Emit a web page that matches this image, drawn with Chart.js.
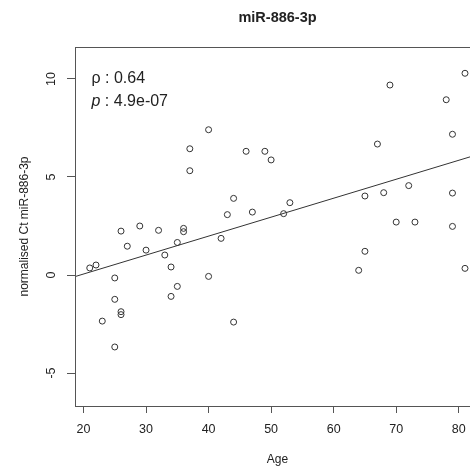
<!DOCTYPE html>
<html><head><meta charset="utf-8">
<script src="https://cdn.jsdelivr.net/npm/chart.js@4"></script>
<style>
html,body{margin:0;padding:0;background:#fff;overflow:hidden;}
#wrap{width:470px;height:472px;overflow:hidden;position:relative;}
canvas{display:block;}
</style></head><body>
<div id="wrap"><canvas id="c" width="500" height="472"></canvas></div>
<script>
const ages = [21,22,23,25,25,25,26,26,26,27,29,30,32,33,34,34,35,35,36,36,37,37,40,40,42,43,44,44,46,47,49,50,52,53,64,65,65,67,68,69,70,72,73,78,79,79,79,81,81];
const ctValues = [0.36,0.51,-2.35,-0.15,-1.24,-3.67,2.24,-1.87,-2.02,1.47,2.5,1.27,2.28,1.02,0.41,-1.09,1.66,-0.58,2.38,2.21,6.44,5.32,7.41,-0.07,1.87,3.08,3.91,-2.40,6.31,3.21,6.31,5.87,3.13,3.69,0.24,4.03,1.21,6.68,4.2,9.69,2.70,4.56,2.70,8.94,7.18,4.18,2.48,10.29,0.34];
const xTicks = [20,30,40,50,60,70,80];
const yTicks = [-5,0,5,10];
const xRange = [18.64, 83.4];
const yRange = [-6.68, 11.63];
const fitX = [18.64, 83.4];
const fitY = [-0.08, 6.18];
const rhoText = '0.64';
const pText = '4.9e-07';
const titleText = 'miR-886-3p';
const xLabel = 'Age';
const yLabel = 'normalised Ct miR-886-3p';

const FAM = '"Liberation Sans", Arial, Helvetica, sans-serif';
const INK = '#222';
const AX = '#555';

const extras = {
  id: 'extras',
  afterDraw(chart) {
    const {ctx, chartArea: a, scales: {y}} = chart;
    ctx.save();
    ctx.strokeStyle = AX; ctx.lineWidth = 1;
    ctx.strokeRect(Math.round(a.left) + 0.5, Math.round(a.top) + 0.5, Math.round(a.right - a.left), Math.round(a.bottom - a.top));
    ctx.fillStyle = INK;
    ctx.font = '12.5px ' + FAM;
    ctx.textAlign = 'center'; ctx.textBaseline = 'middle';
    yTicks.forEach(v => {
      const py = y.getPixelForValue(v);
      ctx.save(); ctx.translate(52, py); ctx.rotate(-Math.PI / 2);
      ctx.fillText(String(v), 0, 0); ctx.restore();
    });
    ctx.textAlign = 'left'; ctx.textBaseline = 'alphabetic';
    ctx.font = '16px ' + FAM;
    ctx.fillText('\u03C1 : ' + rhoText, 91.5, 82.5);
    ctx.font = 'italic 16px ' + FAM;
    ctx.fillText('p', 91.5, 106);
    const w = ctx.measureText('p').width;
    ctx.font = '16px ' + FAM;
    ctx.fillText(' : ' + pText, 91.5 + w, 106);
    ctx.restore();
  }
};

new Chart(document.getElementById('c'), {
  type: 'scatter',
  data: {
    datasets: [
      {
        data: ages.map((a, i) => ({x: a, y: ctValues[i]})),
        pointRadius: 3, pointHoverRadius: 3,
        pointBorderWidth: 1, borderColor: '#333', backgroundColor: 'rgba(0,0,0,0)',
        pointStyle: 'circle'
      },
      {
        type: 'line',
        data: fitX.map((a, i) => ({x: a, y: fitY[i]})),
        borderColor: '#333', borderWidth: 1, pointRadius: 0, fill: false, tension: 0
      }
    ]
  },
  options: {
    responsive: false, animation: false, devicePixelRatio: 1,
    layout: {padding: {left: 0, right: 20, top: 0, bottom: 0}},
    plugins: {
      legend: {display: false}, tooltip: {enabled: false},
      title: {
        display: true, text: titleText, fullSize: false, color: INK,
        font: {size: 14.5, weight: 'bold', family: FAM},
        padding: {top: 9.3, bottom: 20.3}
      }
    },
    scales: {
      x: {
        type: 'linear', min: xRange[0], max: xRange[1],
        afterBuildTicks: s => { s.ticks = xTicks.map(v => ({value: v})); },
        afterFit: s => { s.height = 66; },
        ticks: {color: INK, font: {size: 12.5, family: FAM}, padding: 9, maxRotation: 0, autoSkip: false},
        grid: {display: true, drawOnChartArea: false, drawTicks: true, tickLength: 7, color: AX},
        border: {display: false},
        title: {display: true, text: xLabel, color: INK, font: {size: 12, family: FAM}, padding: {top: 0, bottom: 5}}
      },
      y: {
        type: 'linear', min: yRange[0], max: yRange[1],
        afterBuildTicks: s => { s.ticks = yTicks.map(v => ({value: v})); },
        afterFit: s => { s.width = 75; },
        ticks: {color: 'rgba(0,0,0,0)', font: {size: 12.5, family: FAM}},
        grid: {display: true, drawOnChartArea: false, drawTicks: true, tickLength: 8, color: AX},
        border: {display: false},
        title: {display: true, text: yLabel, color: INK, font: {size: 12, family: FAM}, padding: {top: 17.8, bottom: 0}}
      }
    }
  },
  plugins: [extras]
});
</script>
</body></html>
